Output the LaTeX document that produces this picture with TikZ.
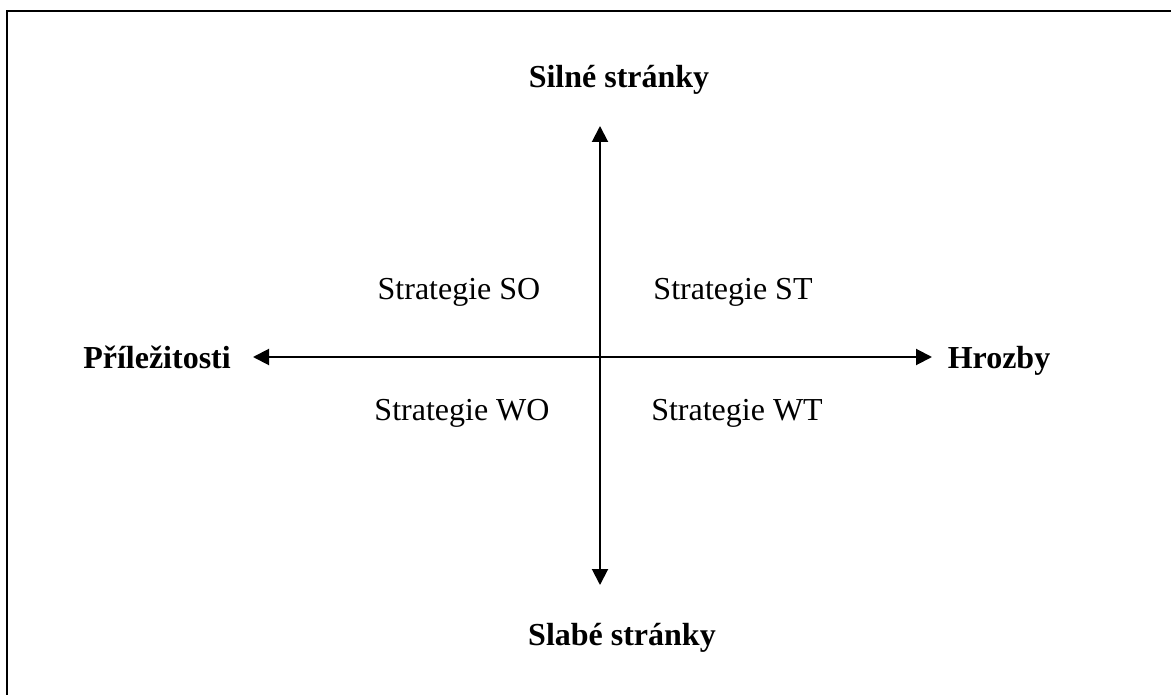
\documentclass[tikz,border=0pt]{standalone}
\usepackage{fontspec}
\setmainfont{Liberation Serif}
\usetikzlibrary{arrows.meta}
\begin{document}
\begin{tikzpicture}[x=1pt,y=-1pt,
  axis/.style={line width=2pt,{Triangle[length=16pt,width=16pt]}-{Triangle[length=16pt,width=16pt]}},
  pole/.style={font=\fontsize{32}{38}\selectfont\bfseries,anchor=base,inner sep=0pt},
  quad/.style={font=\fontsize{32}{38}\selectfont,anchor=base,inner sep=0pt}]
  \useasboundingbox (0,0) rectangle (1171,695);
  % frame, running off the right and bottom edges
  \begin{scope}
    \clip (0,0) rectangle (1171,695);
    \draw[line width=2.5pt] (7,11) rectangle (1200,720);
  \end{scope}
  % axis end points
  \coordinate (top) at (600,126);
  \coordinate (bottom) at (600,585);
  \coordinate (left) at (253,357);
  \coordinate (right) at (932,357);
  \draw[axis] (bottom) -- (top);
  \draw[axis] (left) -- (right);
  % pole labels
  \node[pole] (s) at (619,88) {Silné stránky};
  \node[pole] (w) at (622,645) {Slabé stránky};
  \node[pole] (o) at (157,368) {Příležitosti};
  \node[pole] (t) at (999,368) {Hrozby};
  % quadrant labels
  \node[quad] (so) at (459,300) {Strategie SO};
  \node[quad] (st) at (733,300) {Strategie ST};
  \node[quad] (wo) at (462,420) {Strategie WO};
  \node[quad] (wt) at (737,420) {Strategie WT};
\end{tikzpicture}
\end{document}
